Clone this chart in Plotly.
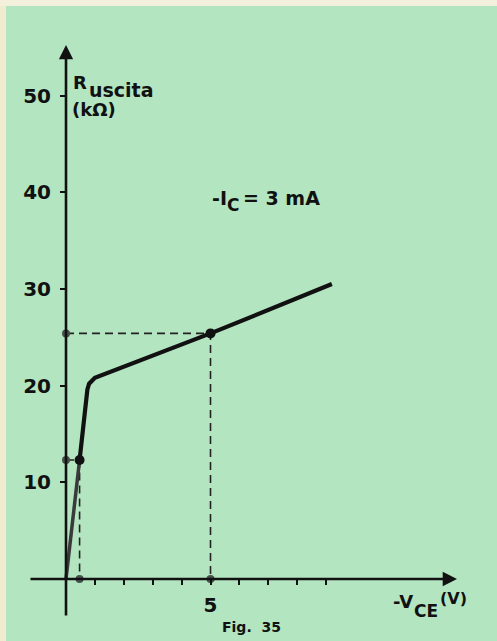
import plotly.graph_objects as go

# ---- data ----
vce = [0, 0.47, 0.74, 0.80, 1.0, 5.0, 9.2]          # -V_CE (V)
r_out = [0, 12.3, 19.6, 20.2, 20.8, 25.4, 30.5]      # R_uscita (kOhm)
op_vce = [0.47, 5.0]                                  # marked operating points
op_r = [12.3, 25.4]
y_ticks = [10, 20, 30, 40, 50]
y_labels = ["10", "20", "30", "40", "50"]
x_ticks = [1, 2, 3, 4, 5, 6, 7, 8, 9]
x_labels = ["", "", "", "", "5", "", "", "", ""]

W, H = 497, 641
BG = "#b3e5c0"
INK = "#111111"
FONT = "DejaVu Sans"

def px(x):
    return x / W

def py(y):
    return 1 - y / H

# axis mapping (origin at pixel 66,579)
x0p, y0p = 66, 579
sx, sy = 28.9, 9.67
x_range = [-x0p / sx, (W - x0p) / sx]
y_range = [-(H - y0p) / sy, y0p / sy]

fig = go.Figure()

# dashed guide lines
for xv, yv in zip(op_vce, op_r):
    fig.add_trace(go.Scatter(x=[0, xv, xv], y=[yv, yv, 0], mode="lines",
                             line=dict(color="#222", width=1.6, dash="8px,5px"),
                             hoverinfo="skip", showlegend=False))

# curve: lower faint segment then main segment
fig.add_trace(go.Scatter(x=vce[:2], y=r_out[:2], mode="lines",
                         line=dict(color="#3a3a3a", width=3.5),
                         hoverinfo="skip", showlegend=False))
fig.add_trace(go.Scatter(x=vce[1:], y=r_out[1:], mode="lines",
                         line=dict(color=INK, width=4.2),
                         hoverinfo="skip", showlegend=False))

# projections on axes
fig.add_trace(go.Scatter(x=[0] * len(op_r) + op_vce, y=op_r + [0] * len(op_vce),
                         mode="markers",
                         marker=dict(color="#46524a", size=8),
                         hoverinfo="skip", showlegend=False))
# operating points
fig.add_trace(go.Scatter(x=op_vce, y=op_r, mode="markers",
                         marker=dict(color=INK, size=10),
                         hoverinfo="skip", showlegend=False))

annotations = []
# axis lines with arrows
annotations.append(dict(x=(457 - x0p) / sx, y=0, ax=(29 - x0p) / sx, ay=0,
                        xref="x", yref="y", axref="x", ayref="y", text="",
                        showarrow=True, arrowhead=2, arrowsize=1.1,
                        arrowwidth=2.6, arrowcolor=INK, standoff=0, startstandoff=0))
annotations.append(dict(x=0, y=(y0p - 45) / sy, ax=0, ay=-(617 - y0p) / sy,
                        xref="x", yref="y", axref="x", ayref="y", text="",
                        showarrow=True, arrowhead=2, arrowsize=1.1,
                        arrowwidth=2.6, arrowcolor=INK, standoff=0, startstandoff=0))

def txt(s, x, y, size, anchor="left"):
    annotations.append(dict(text=s, x=px(x), y=py(y), xref="paper", yref="paper",
                            xanchor=anchor, yanchor="middle", showarrow=False,
                            borderpad=0, borderwidth=0,
                            font=dict(family=FONT, size=size, color=INK, weight="bold")))

txt("R", 73, 82, 18)
txt("uscita", 89, 90, 19)
txt("(kΩ)", 72, 110, 18)
txt("-I", 212, 198, 19)
txt("C", 227, 205, 17)
txt("= 3 mA", 243, 198, 19)
txt("-V", 393, 601, 18)
txt("CE", 414, 611, 17)
txt("(V)", 440, 598, 16)
txt("Fig.  35", 222, 627, 14)

tickfont = dict(family=FONT, size=20, color=INK, weight="bold")

fig.update_layout(
    width=W, height=H,
    margin=dict(l=0, r=0, t=0, b=0),
    paper_bgcolor=BG, plot_bgcolor=BG,
    showlegend=False,
    annotations=annotations,
    shapes=[
        dict(type="rect", xref="paper", yref="paper", x0=0, x1=px(6), y0=0, y1=1,
             fillcolor="#efeccf", line=dict(width=0), layer="below"),
        dict(type="rect", xref="paper", yref="paper", x0=0, x1=1, y0=py(6), y1=1,
             fillcolor="#f3f0dc", line=dict(width=0), layer="below"),
    ],
    xaxis=dict(range=x_range, domain=[0, 1], anchor="free", position=py(y0p),
               showgrid=False, zeroline=False, showline=False,
               tickmode="array", tickvals=x_ticks, ticktext=x_labels,
               ticks="outside", ticklen=5, tickwidth=1.5, tickcolor=INK,
               ticklabelstandoff=3, tickfont=tickfont, fixedrange=True),
    yaxis=dict(range=y_range, domain=[0, 1], anchor="free", position=px(x0p),
               showgrid=False, zeroline=False, showline=False,
               tickmode="array", tickvals=y_ticks, ticktext=y_labels,
               ticks="outside", ticklen=6, tickwidth=1.5, tickcolor=INK,
               ticklabelstandoff=5, tickfont=tickfont, fixedrange=True),
)

fig.write_html("out.html", config={"displayModeBar": False},
               post_script="document.body.style.margin='0';"
                           "document.body.style.overflow='hidden';")
